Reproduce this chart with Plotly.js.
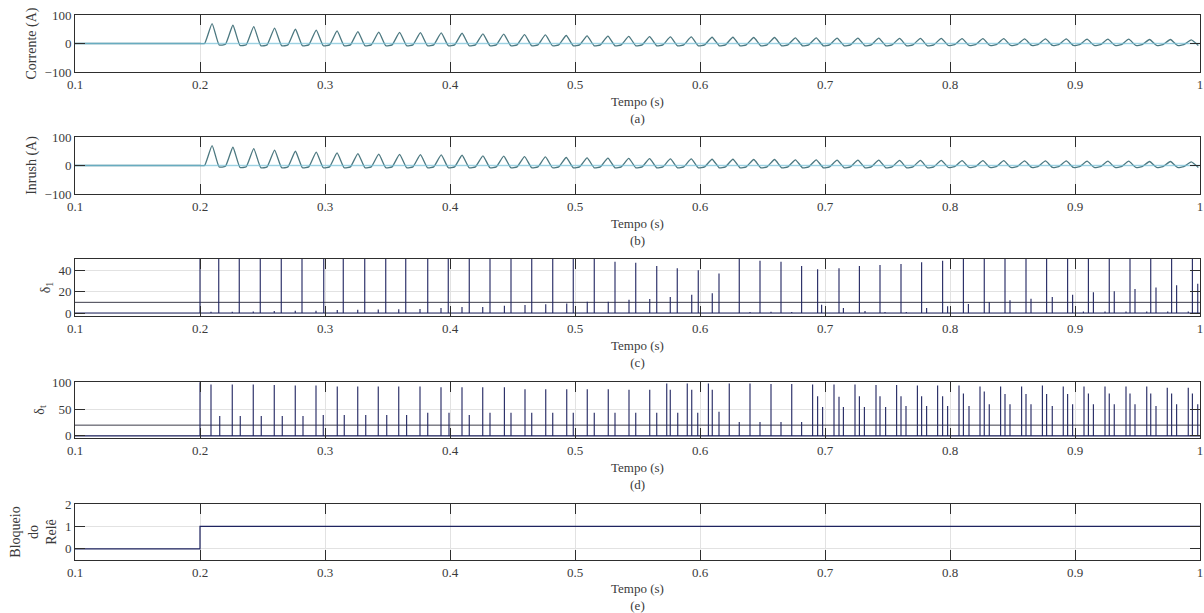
<!DOCTYPE html>
<html>
<head>
<meta charset="utf-8">
<script src="https://cdn.plot.ly/plotly-3.0.1.min.js"></script>
<style>
  html, body { margin: 0; padding: 0; background: #ffffff; }
  #chart { width: 1204px; height: 613px; }
</style>
</head>
<body>
<div id="chart"></div>
<script>
// ---- Measured data -------------------------------------------------------
// Transformer energised at t = 0.2 s, 60 Hz system
const energizeTime = 0.2;
const gridFreq = 60;

// Peak and valley of each cycle of the magnetising (inrush) current, in A
const currentPeak = [70, 64, 59, 54, 50, 47, 44, 42, 40, 39, 38, 37, 36, 34, 33, 31,
                     30, 28, 27, 26, 25, 24, 23, 23, 22, 22, 21, 21, 20, 20, 19, 19,
                     19, 18, 18, 18, 17, 17, 17, 16, 16, 16, 15, 15, 15, 14, 14, 13];
const currentValley = [-5, -7, -8, -8, -8, -8, -8, -8, -8, -8, -8, -8, -8, -8, -8, -8,
                       -8, -8, -8, -8, -8, -8, -8, -8, -8, -8, -8, -8, -8, -8, -8, -8,
                       -8, -8, -8, -7, -7, -7, -7, -7, -7, -7, -7, -7, -7, -7, -7, -7];

// delta_1 index: instants (s) and values
const delta1Time = [0.2, 0.2088, 0.215, 0.2258, 0.2314, 0.2426, 0.2482, 0.2594, 0.265, 0.2762,
  0.2816, 0.2928, 0.299, 0.3098, 0.3146, 0.3262, 0.3318, 0.3426, 0.3486, 0.359,
  0.3646, 0.376, 0.3822, 0.3928, 0.3986, 0.4096, 0.4154, 0.4262, 0.432, 0.4435,
  0.4488, 0.46, 0.4654, 0.4766, 0.4822, 0.4934, 0.4986, 0.5098, 0.5154, 0.5266,
  0.532, 0.5432, 0.5486, 0.5598, 0.5654, 0.5762, 0.5818, 0.5934, 0.5986, 0.6098,
  0.6152, 0.6314, 0.64, 0.648, 0.6568, 0.6648, 0.6734, 0.6813, 0.6941, 0.6973,
  0.7112, 0.7147, 0.7275, 0.732, 0.744, 0.748, 0.7608, 0.765, 0.7773, 0.7813,
  0.7941, 0.7981, 0.8107, 0.8147, 0.8274, 0.8314, 0.844, 0.848, 0.8608, 0.8648,
  0.8773, 0.8818, 0.8941, 0.8981, 0.9067, 0.9107, 0.9147, 0.924, 0.9274, 0.9314,
  0.9408, 0.944, 0.948, 0.9574, 0.9606, 0.9648, 0.9742, 0.9773, 0.9813, 0.9906,
  0.9939, 0.9982];
const delta1Value = [60, 1.2, 60, 1.2, 60, 1.5, 60, 1.8, 60, 2.2,
  60, 2.2, 60, 2.8, 60, 3.1, 60, 3.4, 60, 3.6,
  60, 3.8, 60, 4.7, 60, 5.6, 60, 5.6, 60, 6.9,
  60, 7.5, 60, 8.1, 60, 8.8, 60, 10.6, 60, 10.6,
  48, 12.5, 47, 13.1, 44, 15, 42, 17.2, 40, 18.4,
  37, 60, 1, 49, 1.2, 48, 1, 44, 41, 7.8,
  42, 4.7, 44, 2, 45, 1, 46, 1, 47.5, 4.7,
  49, 6.3, 60, 8.4, 60, 10.3, 60, 11.9, 60, 13.4,
  60, 15, 60, 17.2, 1.5, 60, 19.4, 1.5, 60, 20.3,
  1.5, 60, 22.5, 1.5, 60, 24, 1.5, 60, 26, 1.5,
  60, 27.5];
const delta1Limit = 10;

// delta_t index: instants (s) and values
const deltaTTime = [0.2, 0.2088, 0.2158, 0.2258, 0.2322, 0.2426, 0.249, 0.2594, 0.2658, 0.2762,
  0.2824, 0.2928, 0.2986, 0.3098, 0.3154, 0.3262, 0.3326, 0.3426, 0.3494, 0.359,
  0.3653, 0.376, 0.3822, 0.3928, 0.3992, 0.4096, 0.4154, 0.4262, 0.432, 0.4435,
  0.4488, 0.46, 0.4654, 0.4766, 0.4822, 0.4934, 0.4986, 0.5098, 0.5154, 0.5266,
  0.532, 0.5432, 0.5486, 0.5598, 0.5654, 0.5734, 0.5762, 0.5822, 0.5898, 0.5934,
  0.5982, 0.6067, 0.6098, 0.6152, 0.6234, 0.6314, 0.64, 0.648, 0.6568, 0.6648,
  0.6734, 0.6813, 0.6901, 0.6941, 0.6981, 0.7072, 0.7112, 0.7147, 0.724, 0.7275,
  0.7315, 0.7408, 0.744, 0.7485, 0.7573, 0.7608, 0.7648, 0.7739, 0.7773, 0.7813,
  0.7901, 0.7941, 0.7981, 0.8072, 0.8107, 0.8152, 0.824, 0.8274, 0.8314, 0.8405,
  0.844, 0.848, 0.8573, 0.8608, 0.8648, 0.8739, 0.8773, 0.8818, 0.8906, 0.8941,
  0.8981, 0.9072, 0.9107, 0.9147, 0.924, 0.9274, 0.9314, 0.9408, 0.944, 0.948,
  0.9574, 0.9606, 0.9648, 0.9738, 0.9773, 0.9813, 0.9906, 0.9939, 0.9982];
const deltaTValue = [100, 96, 37, 96, 37, 96, 37, 95, 37, 94,
  37, 94, 39, 92, 39, 92, 39, 92, 39, 92,
  39, 92, 43, 91, 43, 91, 39, 91, 43, 91,
  43, 87, 43, 87, 43, 87, 43, 87, 43, 87,
  43, 86, 43, 86, 43, 98, 86, 43, 98, 86,
  43, 98, 86, 45, 98, 26, 98, 26, 97, 26,
  97, 26, 96, 74, 54, 96, 73, 54, 96, 74,
  54, 95, 74, 54, 95, 74, 56, 94, 74, 56,
  94, 74, 56, 94, 79, 56, 92, 83, 59, 92,
  78, 59, 92, 78, 59, 94, 78, 56, 92, 78,
  59, 92, 79, 59, 92, 79, 59, 92, 79, 59,
  92, 79, 56, 90, 79, 59, 90, 79, 59];
const deltaTLimit = 20;

// Relay blocking signal (0 = released, 1 = blocked)
const relayTime = [0.1, 0.2, 1.0];
const relayState = [0, 1, 1];

// ---- Helpers -------------------------------------------------------------
const T0 = 0.1, T1 = 1.0;

// Build the current waveform from the cycle-by-cycle peaks and valleys
function buildWave(peaks, valleys) {
  const period = 1 / gridFreq;
  const x = [T0, energizeTime], y = [0, 0];
  peaks.forEach((p, k) => {
    const start = energizeTime + k * period;
    const rest = k === 0 ? 0 : valleys[k - 1] * 0.6;
    x.push(start + 0.22 * period, start + 0.58 * period, start + 0.92 * period);
    y.push(rest, p, valleys[k]);
  });
  return { x, y };
}

// Impulse-style trace: zero baseline with a vertical stroke at each instant
function buildSpikes(times, values) {
  const x = [T0], y = [0];
  times.forEach((t, i) => { x.push(t, t, t); y.push(0, values[i], 0); });
  x.push(T1); y.push(0);
  return { x, y };
}

const serif = '"Liberation Serif", "Times New Roman", serif';
const waveColor = '#4c7880';
const haloColor = 'rgba(120, 200, 226, 0.65)';
const navy = '#1f2460';

const wave = buildWave(currentPeak, currentValley);
const sp1 = buildSpikes(delta1Time, delta1Value);
const spT = buildSpikes(deltaTTime, deltaTValue);

const traces = [
  { x: wave.x, y: wave.y, xaxis: 'x', yaxis: 'y', mode: 'lines',
    line: { color: waveColor, width: 1.3, shape: 'spline', smoothing: 0.45 }, hoverinfo: 'x+y' },
  { x: [T0, T1], y: [0, 0], xaxis: 'x', yaxis: 'y', mode: 'lines',
    line: { color: haloColor, width: 1.6 }, hoverinfo: 'skip' },

  { x: wave.x, y: wave.y, xaxis: 'x2', yaxis: 'y2', mode: 'lines',
    line: { color: waveColor, width: 1.3, shape: 'spline', smoothing: 0.45 }, hoverinfo: 'x+y' },
  { x: [T0, T1], y: [0, 0], xaxis: 'x2', yaxis: 'y2', mode: 'lines',
    line: { color: haloColor, width: 1.6 }, hoverinfo: 'skip' },

  { x: [T0, T1], y: [delta1Limit, delta1Limit], xaxis: 'x3', yaxis: 'y3', mode: 'lines',
    line: { color: '#3c3c4a', width: 1 }, hoverinfo: 'skip' },
  { x: sp1.x, y: sp1.y, xaxis: 'x3', yaxis: 'y3', mode: 'lines',
    line: { color: navy, width: 1.1 }, hoverinfo: 'x+y' },

  { x: [T0, T1], y: [deltaTLimit, deltaTLimit], xaxis: 'x4', yaxis: 'y4', mode: 'lines',
    line: { color: '#3c3c4a', width: 1 }, hoverinfo: 'skip' },
  { x: spT.x, y: spT.y, xaxis: 'x4', yaxis: 'y4', mode: 'lines',
    line: { color: navy, width: 1.1 }, hoverinfo: 'x+y' },

  { x: relayTime, y: relayState, xaxis: 'x5', yaxis: 'y5', mode: 'lines',
    line: { color: navy, width: 1.2, shape: 'hv' }, hoverinfo: 'x+y' }
];

// Panel placement (pixel rows inside the 613 px tall figure)
const H = 613, W = 1204;
const rows = [[15, 72], [137, 194], [259, 316], [382, 438], [504, 560]];
const panelTags = ['(a)', '(b)', '(c)', '(d)', '(e)'];
const yTitles = ['Corrente (A)', 'Inrush (A)', 'δ<sub>1</sub>', 'δ<sub>t</sub>', 'Bloqueio<br>do<br>Relê'];
const yRanges = [[-100, 100], [-100, 100], [-2.8, 50.6], [-4, 100.6], [-0.5, 2]];
const yTicks = [[-100, 0, 100], [-100, 0, 100], [0, 20, 40], [0, 50, 100], [0, 1, 2]];
const xTicks = [0.1, 0.2, 0.3, 0.4, 0.5, 0.6, 0.7, 0.8, 0.9, 1];
const xTickText = ['0.1', '0.2', '0.3', '0.4', '0.5', '0.6', '0.7', '0.8', '0.9', '1'];

const tickFont = { family: serif, size: 13, color: '#3a3a3a' };
const common = {
  showline: true, linecolor: '#2e2e2e', linewidth: 1, mirror: 'ticks',
  ticks: 'inside', ticklen: 10, tickcolor: '#2e2e2e', tickwidth: 1,
  showgrid: true, gridcolor: '#e2e2e2', gridwidth: 1, zeroline: false,
  tickfont: tickFont, automargin: false, fixedrange: true
};

const layout = {
  width: W, height: H,
  margin: { l: 0, r: 0, t: 0, b: 0 },
  paper_bgcolor: '#ffffff', plot_bgcolor: '#ffffff',
  showlegend: false,
  font: { family: serif, color: '#3a3a3a' }
};

rows.forEach((r, i) => {
  const n = i === 0 ? '' : String(i + 1);
  layout['xaxis' + n] = Object.assign({}, common, {
    domain: [75 / W, 1200 / W], anchor: 'y' + n,
    range: [T0, T1], tickvals: xTicks, ticktext: xTickText,
    title: { text: 'Tempo (s)<br>' + panelTags[i], font: { family: serif, size: 13, color: '#3a3a3a' }, standoff: 6 }
  });
  layout['yaxis' + n] = Object.assign({}, common, {
    domain: [1 - r[1] / H, 1 - r[0] / H], anchor: 'x' + n,
    range: yRanges[i], tickvals: yTicks[i],
    title: { text: yTitles[i], font: { family: serif, size: 14, color: '#3a3a3a' }, standoff: 4 }
  });
});

Plotly.newPlot('chart', traces, layout, { displayModeBar: false, staticPlot: true });
</script>
</body>
</html>
